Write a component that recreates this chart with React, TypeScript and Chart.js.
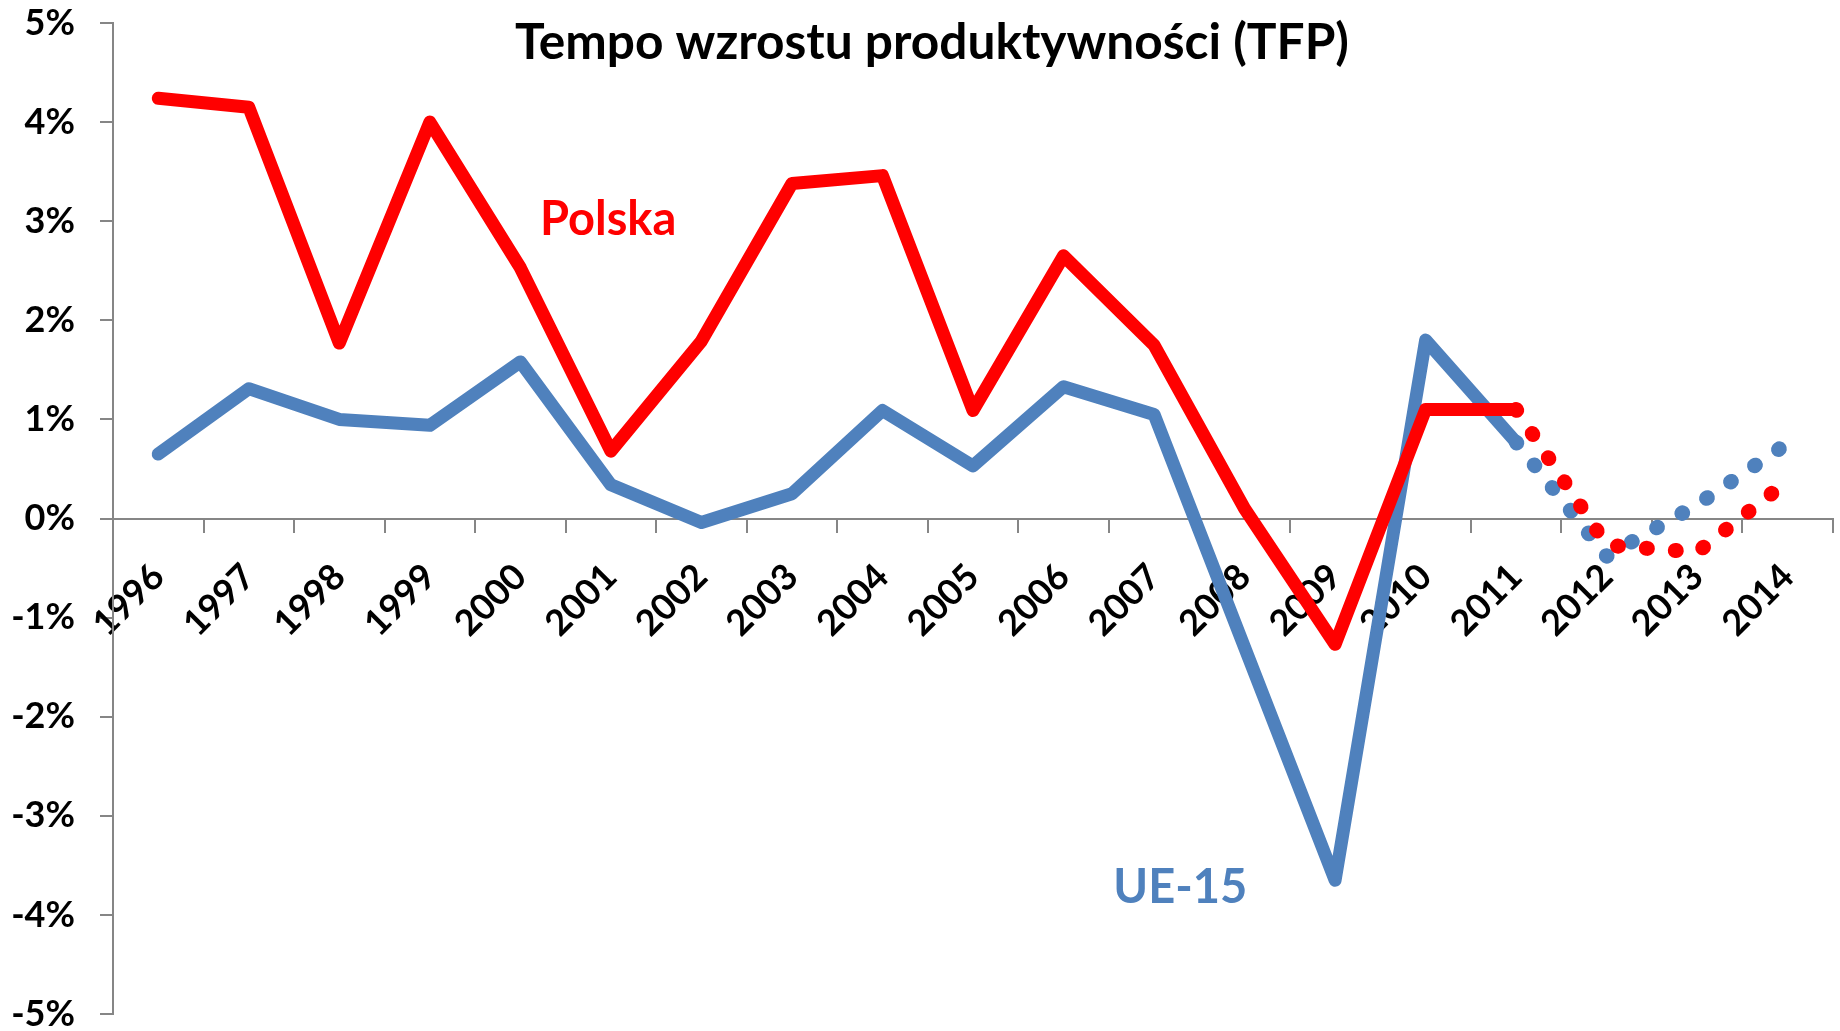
import React, { useEffect, useRef } from "react";
import { Chart, registerables } from "chart.js";

Chart.register(...registerables);

// ---- data ----
const years = [
  "1996", "1997", "1998", "1999", "2000", "2001", "2002", "2003", "2004", "2005",
  "2006", "2007", "2008", "2009", "2010", "2011", "2012", "2013", "2014",
];
// observed (solid) 1996-2011
const polska = [4.24, 4.15, 1.77, 4.0, 2.53, 0.68, 1.79, 3.38, 3.46, 1.09, 2.65, 1.75, 0.1, -1.27, 1.1, 1.1];
const ue15 = [0.65, 1.31, 1.0, 0.94, 1.58, 0.34, -0.04, 0.25, 1.09, 0.53, 1.33, 1.05, -1.3, -3.65, 1.8, 0.77];
// forecast (dotted) 2011-2014
const forecastYears = ["2011", "2012", "2013", "2014"];
const polskaForecast = [1.1, -0.27, -0.34, 0.38];
const ue15Forecast = [0.77, -0.38, 0.14, 0.76];
// axis
const yMin = -5;
const yMax = 5;
const yStep = 1;

const TITLE = "Tempo wzrostu produktywności (TFP)";
const RED = "#FF0000";
const BLUE = "#4F81BD";
const AXIS = "#868686";
const FONT = "Lato, 'Open Sans', sans-serif";

const textPlugin = {
  id: "chartTexts",
  afterDraw(chart: any) {
    const ctx = chart.ctx as CanvasRenderingContext2D;
    const xs = chart.scales.x;
    const ys = chart.scales.y;
    ctx.save();
    // title
    let size = 46;
    ctx.font = `bold ${size}px ${FONT}`;
    const w = ctx.measureText(TITLE).width;
    size = Math.min(52, (size * 834) / w);
    ctx.font = `bold ${size}px ${FONT}`;
    ctx.fillStyle = "#000000";
    ctx.textAlign = "center";
    ctx.textBaseline = "alphabetic";
    ctx.fillText(TITLE, 932, 59);
    // series labels
    ctx.font = `bold 47px ${FONT}`;
    ctx.fillStyle = RED;
    ctx.fillText("Polska", xs.getPixelForValue(4.97), ys.getPixelForValue(2.86));
    ctx.fillStyle = BLUE;
    ctx.fillText("UE-15", xs.getPixelForValue(11.29), ys.getPixelForValue(-3.88));
    ctx.restore();
  },
};

export default function App() {
  const ref = useRef<HTMLCanvasElement | null>(null);

  useEffect(() => {
    if (!ref.current) return;
    const chart = new Chart(ref.current, {
      type: "line",
      data: {
        labels: years,
        datasets: [
          {
            label: "Polska",
            data: polska,
            borderColor: RED,
            backgroundColor: RED,
            borderWidth: 13,
            borderCapStyle: "round",
            borderJoinStyle: "round",
            pointRadius: 0,
            tension: 0,
            order: 0,
          },
          {
            label: "Polska prognoza",
            data: forecastYears.map((x, i) => ({ x, y: polskaForecast[i] })),
            borderColor: RED,
            backgroundColor: RED,
            borderWidth: 15,
            borderCapStyle: "round",
            borderJoinStyle: "round",
            borderDash: [1, 28],
            pointRadius: 0,
            tension: 0,
            order: 1,
          },
          {
            label: "UE-15",
            data: ue15,
            borderColor: BLUE,
            backgroundColor: BLUE,
            borderWidth: 13,
            borderCapStyle: "round",
            borderJoinStyle: "round",
            pointRadius: 0,
            tension: 0,
            order: 2,
          },
          {
            label: "UE-15 prognoza",
            data: forecastYears.map((x, i) => ({ x, y: ue15Forecast[i] })),
            borderColor: BLUE,
            backgroundColor: BLUE,
            borderWidth: 15,
            borderCapStyle: "round",
            borderJoinStyle: "round",
            borderDash: [1, 28],
            pointRadius: 0,
            tension: 0,
            order: 3,
          },
        ] as any,
      },
      options: {
        animation: false,
        responsive: true,
        maintainAspectRatio: false,
        devicePixelRatio: 1,
        layout: { padding: { top: 23, right: 7, bottom: 17, left: 0 } },
        plugins: {
          legend: { display: false },
          tooltip: { enabled: false },
          title: { display: false },
        },
        scales: {
          x: {
            type: "category",
            position: { y: 0 } as any,
            offset: true,
            grid: {
              offset: true,
              drawOnChartArea: false,
              drawTicks: true,
              tickLength: 13,
              color: AXIS,
              lineWidth: 2,
            },
            border: { display: true, color: AXIS, width: 2 },
            ticks: {
              autoSkip: false,
              minRotation: 45,
              maxRotation: 45,
              padding: 24,
              color: "#000000",
              font: { family: FONT, size: 36, weight: "bold" },
            },
            afterFit: (scale: any) => {
              scale.height = 0;
              scale.paddingLeft = 0;
              scale.paddingRight = 0;
            },
          },
          y: {
            type: "linear",
            position: "left",
            min: yMin,
            max: yMax,
            grid: {
              drawOnChartArea: false,
              drawTicks: true,
              tickLength: 13,
              color: AXIS,
              lineWidth: 2,
            },
            border: { display: true, color: AXIS, width: 2 },
            ticks: {
              stepSize: yStep,
              padding: 25,
              color: "#000000",
              font: { family: FONT, size: 36, weight: "bold", lineHeight: 0.9 },
              callback: (v: any) => `${v}%`,
            },
            afterFit: (scale: any) => {
              scale.width = 113;
              scale.paddingTop = 0;
              scale.paddingBottom = 0;
            },
          },
        },
      } as any,
      plugins: [textPlugin],
    });
    return () => chart.destroy();
  }, []);

  return (
    <div style={{ position: "fixed", left: 0, top: 0, width: 1840, height: 1031, background: "#ffffff" }}>
      <canvas ref={ref} />
    </div>
  );
}
